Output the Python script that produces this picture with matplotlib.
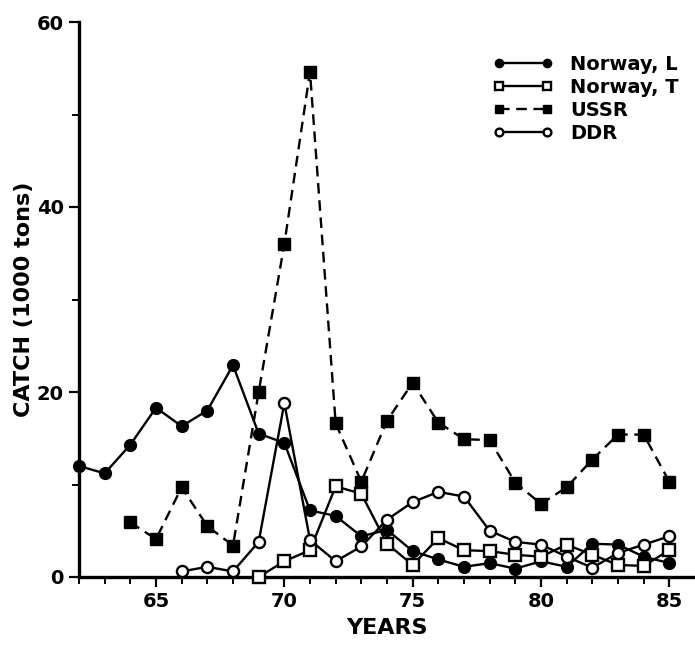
import matplotlib
matplotlib.use("Agg")
import matplotlib.pyplot as plt
from matplotlib.ticker import FixedLocator

plt.rcParams['font.family'] = ['DejaVu Sans']
plt.rcParams['font.weight'] = 'bold'

# ---- data ----
years_norway_l = list(range(62, 86))
norway_l = [12.0, 11.2, 14.3, 18.3, 16.3, 18.0, 22.9, 15.5, 14.5, 7.2, 6.6, 4.4,
            5.1, 2.8, 1.9, 1.1, 1.5, 0.9, 1.7, 1.1, 3.6, 3.5, 2.2, 1.5]

years_norway_t = list(range(69, 86))
norway_t = [0.0, 1.7, 2.9, 9.8, 9.0, 3.6, 1.3, 4.2, 2.9, 2.8, 2.4, 2.2, 3.5,
            2.4, 1.3, 1.2, 2.9]

years_ussr = list(range(64, 86))
ussr = [5.9, 4.1, 9.7, 5.5, 3.4, 20.0, 36.0, 54.6, 16.6, 10.3, 16.9, 21.0,
        16.7, 14.9, 14.8, 10.2, 7.9, 9.7, 12.7, 15.4, 15.4, 10.3]

years_ddr = list(range(66, 86))
ddr = [0.6, 1.1, 0.6, 3.8, 18.8, 4.0, 1.7, 3.3, 6.2, 8.1, 9.2, 8.7, 5.0, 3.8,
       3.5, 2.2, 1.0, 2.6, 3.5, 4.4]

series_labels = ["Norway, L", "Norway, T", "USSR", "DDR"]
x_tick_labels = ["65", "70", "75", "80", "85"]
y_tick_labels = ["0", "20", "40", "60"]

# ---- figure ----
W, H = 695, 648
fig = plt.figure(figsize=(W / 100, H / 100), dpi=100)
ax = fig.add_axes([79 / W, (H - 577) / H, 616 / W, 555 / H])

lw = 1.7
ax.plot(years_norway_l, norway_l, color='black', lw=lw, ls='-',
        marker='o', ms=8.5, mfc='black', mec='black', label=series_labels[0],
        clip_on=False, zorder=4)
ax.plot(years_norway_t, norway_t, color='black', lw=lw, ls='-',
        marker='s', ms=8.5, mfc='white', mec='black', mew=1.7,
        label=series_labels[1], clip_on=False, zorder=5)
ax.plot(years_ussr, ussr, color='black', lw=lw, ls=(0, (4.5, 2.8)),
        marker='s', ms=9, mfc='black', mec='black', label=series_labels[2],
        clip_on=False, zorder=3)
ax.plot(years_ddr, ddr, color='black', lw=lw, ls='-',
        marker='o', ms=8, mfc='white', mec='black', mew=1.7,
        label=series_labels[3], clip_on=False, zorder=6)

ax.set_xlim(62, 86)
ax.set_ylim(0, 60)

for s in ['top', 'right']:
    ax.spines[s].set_visible(False)
for s in ['left', 'bottom']:
    ax.spines[s].set_linewidth(2.4)

ax.set_xticks([65, 70, 75, 80, 85])
ax.set_xticklabels(x_tick_labels)
ax.xaxis.set_minor_locator(FixedLocator(list(range(62, 86))))
ax.set_yticks([0, 20, 40, 60])
ax.set_yticklabels(y_tick_labels)
ax.yaxis.set_minor_locator(FixedLocator([10, 30, 50]))

ax.tick_params(axis='both', which='major', direction='out', length=7,
               width=1.6, labelsize=14, pad=4)
ax.tick_params(axis='both', which='minor', direction='out', length=5,
               width=1.4)
for lab in ax.get_xticklabels() + ax.get_yticklabels():
    lab.set_fontweight('bold')

ax.set_xlabel("YEARS", fontsize=16, fontweight='bold', labelpad=5)
ax.set_ylabel("CATCH (1000 tons)", fontsize=16, fontweight='bold', labelpad=2)

leg = ax.legend(loc='upper left', bbox_to_anchor=(493 / W, 1 - 55 / H),
                bbox_transform=fig.transFigure, frameon=False, numpoints=2,
                borderpad=0, borderaxespad=0,
                handlelength=3.1, handletextpad=0.85, labelspacing=0.2,
                markerscale=0.7, prop={'family': 'DejaVu Sans',
                                       'weight': 'bold', 'size': 14})

fig.savefig("out.png", dpi=100)
